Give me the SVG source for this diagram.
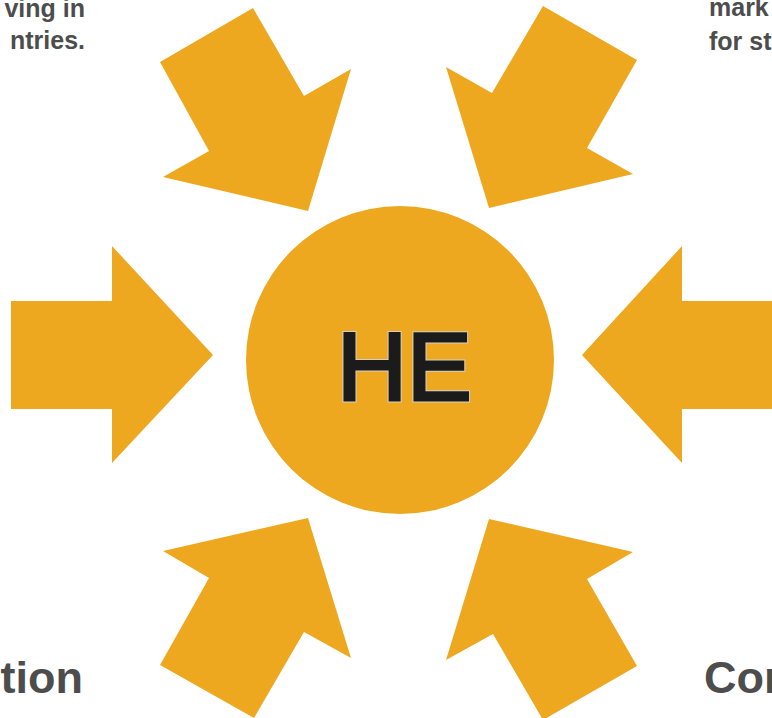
<svg xmlns="http://www.w3.org/2000/svg" width="772" height="718" viewBox="0 0 772 718">
  <style>
    .arrow { fill: #EEA81F; }
    .hub { fill: #EEA81F; }
    .hub-label { font-family: "Liberation Sans", Arial, sans-serif; font-weight: 400; font-size: 97px; }
    .hub-label.halo { fill: #d6d0c4; stroke: #d6d0c4; stroke-width: 5px; stroke-linejoin: miter; }
    .hub-label.ink { fill: #1b1b1b; stroke: #1b1b1b; stroke-width: 3px; stroke-linejoin: miter; }
    .note { font-family: "Liberation Sans", Arial, sans-serif; font-weight: 700; font-size: 25px; fill: #4d4d4d; }
    .title { font-family: "Liberation Sans", Arial, sans-serif; font-weight: 700; font-size: 45px; fill: #4d4d4d; }
  </style>
  <rect width="772" height="718" fill="#ffffff"/>

  <!-- arrows pointing into the hub -->
  <g id="connectors">
    <polygon id="arrow-top-left" class="arrow" points="160,62 253,8 304,96 351,69 308,211 163,177 209,151"/>
    <polygon id="arrow-top-right" class="arrow" points="543,6 637,60 587,148 633,174 489,208 446,67 492,93"/>
    <polygon id="arrow-left" class="arrow" points="11,301 112,301 112,246 213,355 112,463 112,409 11,409"/>
    <polygon id="arrow-right" class="arrow" points="772,301 682,301 682,246 582,355 682,463 682,409 772,409"/>
    <polygon id="arrow-bottom-left" class="arrow" points="308,518 351,658 304,632 254,718 160,665 209,578 163,551"/>
    <polygon id="arrow-bottom-right" class="arrow" points="489,519 633,552 587,579 637,666 543,720 493,634 446,660"/>
  </g>

  <!-- central hub -->
  <g id="hub">
    <circle class="hub" cx="400" cy="360" r="154"/>
    <text class="hub-label halo" x="337" y="400">HE</text>
    <text class="hub-label ink" x="337" y="400">HE</text>
  </g>

  <!-- surrounding labels -->
  <g id="label-top-left">
    <text class="note" x="85" y="17" text-anchor="end">ving in</text>
    <text class="note" x="85" y="49" text-anchor="end">ntries.</text>
  </g>
  <g id="label-top-right">
    <text class="note" x="709" y="16">mark</text>
    <text class="note" x="709" y="50">for st</text>
  </g>
  <g id="label-bottom-left">
    <text class="title" x="83" y="693" text-anchor="end">tion</text>
  </g>
  <g id="label-bottom-right">
    <text class="title" x="704" y="693">Cor</text>
  </g>
</svg>
